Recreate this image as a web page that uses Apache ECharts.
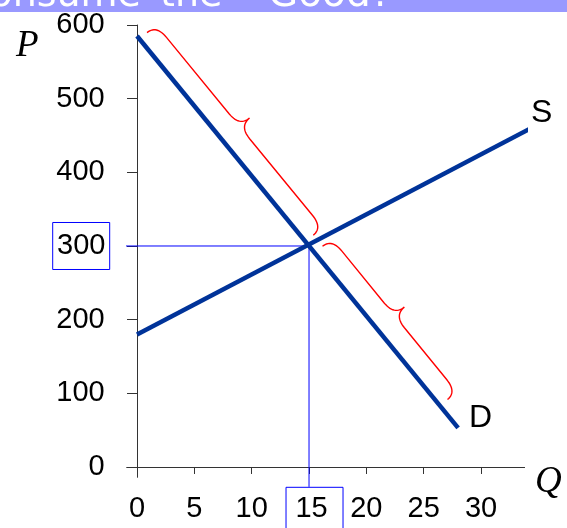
<!DOCTYPE html>
<html><head><meta charset="utf-8">
<script src="https://cdn.jsdelivr.net/npm/echarts@6/dist/echarts.min.js"></script>
<style>html,body{margin:0;padding:0;background:#fff}#c{width:567px;height:528px}</style>
</head><body><div id="c"></div>
<script>
// ---- data ----
const xTicks = [0, 5, 10, 15, 20, 25, 30];
const yTicks = [0, 100, 200, 300, 400, 500, 600];
const demandQ = [0, 28];
const demandP = [585, 53];
const supplyQ = [0, 34.5];
const supplyP = [180, 461];
const eqQ = 15;
const eqP = 300;
// guide lines from equilibrium out to the boxed tick labels
const guideHQ = [-2.44, 15];
const guideHP = [300, 300];
const guideVQ = [15, 15];
const guideVP = [300, -27];
// braces along the demand curve (start / end points)
const braceStartQ = [0.2, 15.5];
const braceStartP = [581, 291];
const braceEndQ = [14.7, 26.4];
const braceEndP = [306, 83];

const zip = (a, b) => a.map((v, i) => [v, b[i]]);
const braceData = braceStartQ.map((q, i) => [q, braceStartP[i], braceEndQ[i], braceEndP[i]]);

function renderBrace(params, api) {
  const a = api.coord([api.value(0), api.value(1)]);
  const b = api.coord([api.value(2), api.value(3)]);
  const dx = b[0] - a[0], dy = b[1] - a[1];
  const L = Math.hypot(dx, dy);
  const ux = dx / L, uy = dy / L;
  const nx = uy, ny = -ux;
  const e = 10, h1 = 12, h2 = 25, r = 16;
  const pts = [];
  const P = (u, v) => [a[0] + ux * u + nx * (v + e), a[1] + uy * u + ny * (v + e)];
  function quad(p0, c, p1) {
    for (let i = 1; i <= 14; i++) {
      const t = i / 14;
      const u = (1 - t) * (1 - t) * p0[0] + 2 * (1 - t) * t * c[0] + t * t * p1[0];
      const v = (1 - t) * (1 - t) * p0[1] + 2 * (1 - t) * t * c[1] + t * t * p1[1];
      pts.push(P(u, v));
    }
  }
  pts.push(P(0, 0));
  quad([0, 0], [0, h1], [r, h1]);
  pts.push(P(L / 2 - r, h1));
  quad([L / 2 - r, h1], [L / 2, h1], [L / 2, h2]);
  quad([L / 2, h2], [L / 2, h1], [L / 2 + r, h1]);
  pts.push(P(L - r, h1));
  quad([L - r, h1], [L, h1], [L, 0]);
  return { type: 'polyline', shape: { points: pts }, style: { stroke: '#ff0000', lineWidth: 1.4, fill: null } };
}

const tickFont = { fontFamily: 'Liberation Sans', fontSize: 29, color: '#000' };
const boxBase = { width: 47, height: 27, lineHeight: 27, align: 'center', borderColor: '#0000ff', borderWidth: 1 };

const chart = echarts.init(document.getElementById('c'), null, { renderer: 'canvas' });
chart.setOption({
  animation: false,
  backgroundColor: '#fff',
  grid: { left: 126.7, top: 25, width: 397.9, height: 452.3, containLabel: false, outerBoundsMode: 'none' },
  xAxis: {
    type: 'value', min: -0.9, max: 33.8,
    axisLine: { onZero: true, lineStyle: { color: '#333', width: 1 } },
    axisTick: { customValues: xTicks, length: 7, lineStyle: { color: '#333' } },
    splitLine: { show: false },
    axisLabel: {
      customValues: xTicks, margin: 20,
      formatter: v => v === eqQ ? '{s|}{b|' + v + '}' : '{n|' + v + '}',
      rich: {
        n: Object.assign({}, tickFont, { height: 27, lineHeight: 27, padding: [8, 0, 12, 0] }),
        s: Object.assign({}, tickFont, { width: 11, height: 27, lineHeight: 27, padding: [8, 0, 12, 0] }),
        b: Object.assign({}, tickFont, boxBase, { padding: [8, 8, 12, 2] })
      }
    }
  },
  yAxis: {
    type: 'value', min: -14, max: 600,
    axisLine: { onZero: true, lineStyle: { color: '#333', width: 1 } },
    axisTick: { customValues: yTicks, length: 10, lineStyle: { color: '#333' } },
    splitLine: { show: false },
    axisLabel: {
      customValues: yTicks, margin: 17,
      formatter: v => v === eqP ? '{b|' + v + '}' : '{n|' + v + '}',
      rich: {
        n: Object.assign({}, tickFont, { height: 27, lineHeight: 27, padding: [10, 5, 10, 0] }),
        b: Object.assign({}, tickFont, boxBase, { padding: [10, 5, 10, 5] })
      }
    }
  },
  graphic: [
    { type: 'rect', left: 0, top: 0, shape: { x: 0, y: 0, width: 567, height: 12 }, style: { fill: '#9999ff' }, z: 100 },
    { type: 'text', x: 141, y: -4, style: { text: 'Consume', fill: '#fff', font: '38px "DejaVu Sans"', align: 'right', verticalAlign: 'middle' }, z: 101 },
    { type: 'text', x: 160, y: -4, style: { text: 'the', fill: '#fff', font: '38px "DejaVu Sans"', align: 'left', verticalAlign: 'middle' }, z: 101 },
    { type: 'text', x: 268, y: -4, style: { text: 'Good?', fill: '#fff', font: '39px "DejaVu Sans"', align: 'left', verticalAlign: 'middle' }, z: 101 },
    { type: 'text', x: 16, y: 46, style: { text: 'P', fill: '#000', font: 'italic 37px "Liberation Serif"', align: 'left', verticalAlign: 'middle' } },
    { type: 'text', x: 535, y: 482, style: { text: 'Q', fill: '#000', font: 'italic 37px "Liberation Serif"', align: 'left', verticalAlign: 'middle' } }
  ],
  series: [
    { type: 'line', data: zip(guideHQ, guideHP), symbol: 'none', clip: false, silent: true, lineStyle: { color: '#0000ff', width: 1 }, z: 1 },
    { type: 'line', data: zip(guideVQ, guideVP), symbol: 'none', clip: false, silent: true, lineStyle: { color: '#0000ff', width: 1 }, z: 1 },
    { type: 'line', name: 'D', data: zip(demandQ, demandP), symbol: 'none', clip: false, lineStyle: { color: '#003399', width: 4.5 }, z: 3,
      endLabel: { show: true, formatter: 'D', distance: 5, offset: [6, -10], fontFamily: 'Liberation Sans', fontSize: 32, color: '#000' } },
    { type: 'line', name: 'S', data: zip(supplyQ, supplyP), symbol: 'none', clip: false, lineStyle: { color: '#003399', width: 4.5 }, z: 3,
      endLabel: { show: true, formatter: 'S', distance: 5, offset: [-2, -17], fontFamily: 'Liberation Sans', fontSize: 32, color: '#000' } },
    { type: 'custom', data: braceData, renderItem: renderBrace, encode: { x: [0, 2], y: [1, 3] }, clip: false, z: 2 }
  ]
});
</script></body></html>
